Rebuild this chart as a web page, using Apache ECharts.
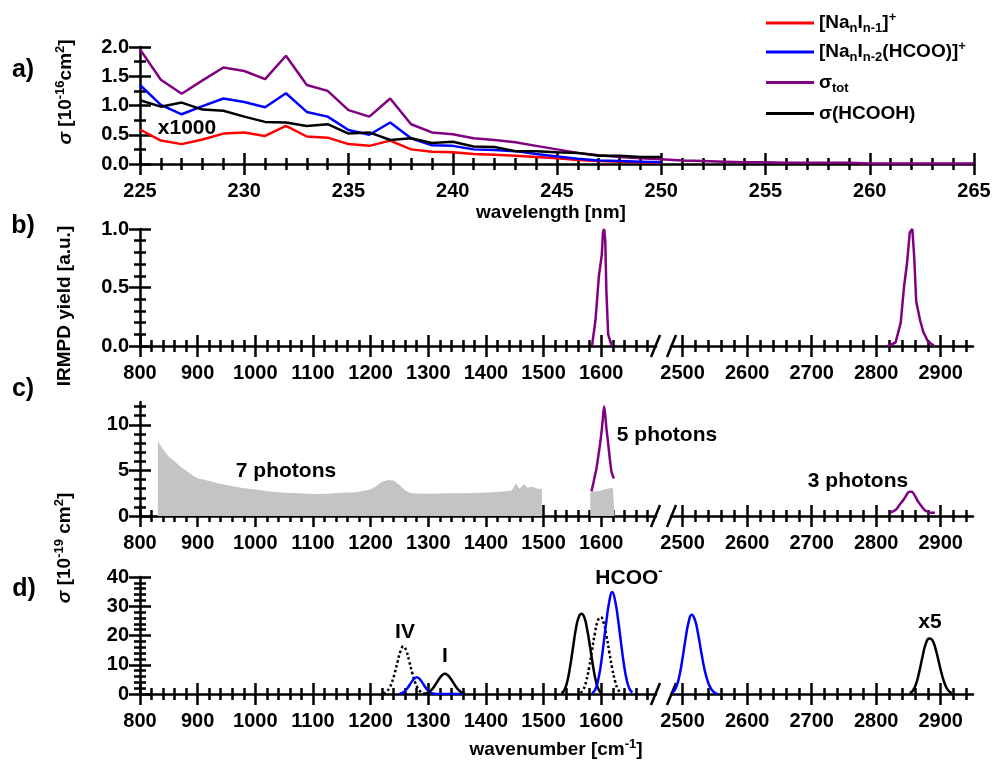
<!DOCTYPE html>
<html>
<head>
<meta charset="utf-8">
<title>Cross sections</title>
<style>
  * { margin: 0; padding: 0; }
  html, body { width: 100%; height: 100%; background: #fff; }
  #chart { width: 993px; height: 760px; }
</style>
</head>
<body>
<div id="chart"></div>
<script src="https://cdn.jsdelivr.net/npm/echarts@6/dist/echarts.min.js"></script>
<script>
// panel a: UV cross sections (10^-16 cm^2), 225..250 nm for three curves, sigma_tot to 265 nm
var wavelength = [225, 226, 227, 228, 229, 230, 231, 232, 233, 234, 235, 236, 237, 238, 239, 240,
  241, 242, 243, 244, 245, 246, 247, 248, 249, 250, 251, 252, 253, 254, 255, 256, 257, 258, 259,
  260, 261, 262, 263, 264, 265];
var sigNaI = [0.59, 0.40, 0.34, 0.42, 0.52, 0.54, 0.48, 0.65, 0.47, 0.45, 0.34, 0.31, 0.40, 0.25,
  0.21, 0.20, 0.17, 0.16, 0.14, 0.12, 0.10, 0.07, 0.05, 0.04, 0.03, 0.02];
var sigHCOO = [1.35, 1.01, 0.85, 0.99, 1.12, 1.06, 0.97, 1.21, 0.89, 0.81, 0.58, 0.50, 0.71, 0.44,
  0.32, 0.31, 0.25, 0.24, 0.22, 0.17, 0.13, 0.09, 0.06, 0.05, 0.04, 0.03];
var sigTot = [1.96, 1.44, 1.20, 1.43, 1.65, 1.59, 1.45, 1.85, 1.35, 1.25, 0.92, 0.81, 1.12, 0.68,
  0.54, 0.51, 0.44, 0.41, 0.37, 0.31, 0.25, 0.19, 0.15, 0.12, 0.10, 0.08, 0.06, 0.05, 0.04, 0.03,
  0.03, 0.02, 0.02, 0.02, 0.02, 0.01, 0.01, 0.01, 0.01, 0.01, 0.01];
var sigHCOOH = [1.09, 0.98, 1.05, 0.93, 0.91, 0.81, 0.72, 0.71, 0.65, 0.68, 0.52, 0.54, 0.41, 0.44,
  0.36, 0.38, 0.30, 0.29, 0.22, 0.22, 0.20, 0.19, 0.14, 0.14, 0.12, 0.12];

// panel b: IRMPD yield
var irmpdWnA = [1584, 1590, 1596, 1601, 1603, 1605, 1607, 1609, 1612, 1617, 1620];
var irmpdA = [0, 0.22, 0.6, 0.78, 0.97, 1.0, 0.9, 0.46, 0.1, 0.02, 0];
var irmpdWnB = [2818, 2830, 2838, 2843, 2848, 2852, 2856, 2859, 2862, 2868, 2873, 2880, 2890];
var irmpdB = [0, 0.03, 0.2, 0.5, 0.72, 0.97, 1.0, 0.75, 0.38, 0.22, 0.12, 0.04, 0];

// panel c: IR cross sections (10^-19 cm^2)
var sevenWn = [831, 840, 850, 860, 870, 880, 890, 900, 910, 920, 935, 950, 975, 1000, 1025, 1050,
  1075, 1100, 1125, 1150, 1175, 1200, 1210, 1220, 1230, 1240, 1250, 1260, 1270, 1300, 1330, 1360,
  1390, 1410, 1430, 1445, 1452, 1458, 1466, 1472, 1480, 1490, 1497];
var sevenSig = [8.2, 7.3, 6.5, 6.0, 5.4, 5.0, 4.5, 4.1, 4.0, 3.85, 3.6, 3.4, 3.1, 2.9, 2.7, 2.55,
  2.5, 2.4, 2.45, 2.55, 2.6, 2.9, 3.3, 3.75, 3.95, 3.9, 3.4, 2.8, 2.5, 2.45, 2.5, 2.5, 2.55, 2.6,
  2.7, 2.8, 3.6, 3.0, 3.5, 3.1, 3.2, 3.0, 3.0];
var sevenWnB = [1581, 1585, 1590, 1600, 1610, 1620, 1623];
var sevenSigB = [2.6, 2.7, 2.7, 2.8, 3.0, 3.1, 3.2];
var fiveWn = [1583, 1586, 1589, 1592, 1595, 1598, 1601, 1603, 1605, 1607, 1609, 1612, 1615, 1618, 1622];
var fiveSig = [2.7, 3.5, 4.4, 5.3, 6.6, 7.9, 9.5, 10.8, 12.0, 11.0, 9.6, 8.0, 6.2, 4.8, 4.1];
var threeWn = [2821, 2826, 2831, 2836, 2842, 2847, 2851, 2855, 2860, 2865, 2870, 2875, 2881, 2886, 2891];
var threeSig = [0.36, 0.5, 0.73, 1.2, 1.75, 2.3, 2.65, 2.65, 2.2, 1.57, 1.1, 0.66, 0.45, 0.36, 0.36];

// panel d: computed spectra
var ivWn = [1222, 1227, 1232, 1237, 1242, 1247, 1252, 1257, 1262, 1267, 1272, 1277, 1282, 1287, 1292, 1297];
var ivSig = [0.2, 0.7, 1.9, 4.0, 7.3, 11.2, 14.7, 16.3, 14.7, 11.2, 7.3, 4.0, 1.9, 0.7, 0.2, 0];
var blueAWn = [1250, 1255, 1260, 1265, 1270, 1275, 1280, 1285, 1290, 1295, 1300, 1305, 1310, 1315, 1360];
var blueASig = [0.1, 0.4, 1.1, 2.3, 3.8, 5.1, 5.7, 5.1, 3.8, 2.3, 1.1, 0.4, 0.1, 0, 0];
var iWn = [1294, 1299, 1304, 1309, 1314, 1319, 1324, 1329, 1334, 1339, 1344, 1349, 1354, 1359, 1364];
var iSig = [0.1, 0.4, 1.1, 2.2, 3.7, 5.2, 6.4, 6.9, 6.4, 5.2, 3.7, 2.2, 1.1, 0.4, 0.1];
var blackBWn = [1531, 1536, 1541, 1546, 1551, 1556, 1561, 1566, 1571, 1576, 1581, 1586, 1591, 1596, 1601];
var blackBSig = [0.3, 1.3, 4.2, 9.3, 15.8, 22.2, 26.3, 27.4, 26.0, 21.6, 15.6, 9.3, 4.2, 1.3, 0.3];
var dotBWn = [1564, 1569, 1574, 1579, 1584, 1589, 1594, 1599, 1604, 1609, 1614, 1619, 1624, 1629, 1634];
var dotBSig = [0.4, 1.5, 4.4, 9.0, 14.9, 20.8, 25.0, 26.3, 24.5, 20.0, 14.3, 8.8, 4.4, 1.6, 0.4];
var blueBWn = [1584, 1589, 1594, 1599, 1604, 1609, 1614, 1619, 1624, 1629, 1634, 1639, 1644, 1649, 1654];
var blueBSig = [0.3, 1.3, 4.2, 9.5, 17.0, 25.0, 31.6, 34.9, 32.0, 25.8, 18.0, 10.6, 5.0, 1.8, 0.5];
var blueCWn = [2484, 2489, 2494, 2499, 2504, 2509, 2514, 2519, 2524, 2529, 2534, 2539, 2544, 2549, 2554];
var blueCSig = [0.5, 1.8, 5.2, 11.0, 18.1, 24.3, 27.1, 25.4, 20.5, 14.2, 8.4, 4.3, 1.8, 0.6, 0];
var x5Wn = [2852, 2857, 2862, 2867, 2872, 2877, 2882, 2887, 2892, 2897, 2902, 2907, 2912, 2917];
var x5Sig = [0.3, 1.2, 3.6, 7.9, 13.0, 17.3, 19.0, 18.4, 15.4, 11.0, 6.5, 3.1, 1.1, 0.3];

// tick labels
var nmTicks = [225, 230, 235, 240, 245, 250, 255, 260, 265];
var wnTicksL = [800, 900, 1000, 1100, 1200, 1300, 1400, 1500, 1600];
var wnTicksR = [2500, 2600, 2700, 2800, 2900];
var aTicksY = [0, 0.5, 1, 1.5, 2];
var bTicksY = [0, 0.5, 1];
var cTicksY = [0, 5, 10];
var dTicksY = [0, 10, 20, 30, 40];

var FONT = '"Liberation Sans", Arial, sans-serif';

function minorTicks(from, to, step, majors) {
  var out = [];
  for (var v = from; v <= to + 1e-9; v += step) {
    var r = Math.round(v * 1000) / 1000;
    if (majors.indexOf(r) === -1) out.push(r);
  }
  return out;
}

function pairs(xs, ys) {
  var out = [];
  for (var i = 0; i < ys.length; i++) out.push([xs[i], ys[i]]);
  return out;
}

var grids = [
  { left: 140, top: 47, width: 834, height: 117 },    // a
  { left: 140, top: 229, width: 516, height: 117 },   // b left
  { left: 671, top: 229, width: 302, height: 117 },   // b right
  { left: 140, top: 402, width: 516, height: 114 },   // c left
  { left: 671, top: 402, width: 302, height: 114 },   // c right
  { left: 140, top: 577, width: 516, height: 117 },   // d left
  { left: 671, top: 577, width: 302, height: 117 }    // d right
];
grids.forEach(function (g) { g.outerBoundsMode = 'none'; g.containLabel = false; });

var xAxes = [], yAxes = [];
var labelStyle = { color: '#000', fontFamily: FONT, fontWeight: 'bold', fontSize: 20 };

// four axes on top of each other so the ticks cross the axis line
function axisSet(dim, grid, min, max, majors, minors, fmt) {
  var list = dim === 'x' ? xAxes : yAxes;
  var first = list.length;
  var sets = [[majors, 11, false, true], [majors, 11, true, false], [minors, 6, false, false], [minors, 6, true, false]];
  sets.forEach(function (t, k) {
    var lbl = { show: false };
    if (t[3]) {
      lbl = Object.assign({ margin: dim === 'x' ? 17 : 11, customValues: majors, formatter: fmt }, labelStyle);
    }
    list.push({
      type: 'value', gridIndex: grid, min: min, max: max,
      position: dim === 'x' ? 'bottom' : 'left',
      splitLine: { show: false },
      axisLine: { show: k === 0, onZero: false, lineStyle: { color: '#000', width: 2.5 } },
      axisTick: { show: true, inside: t[2], length: t[1], customValues: t[0], lineStyle: { color: '#000', width: 2.5 } },
      axisLabel: lbl
    });
  });
  return first;
}
function hiddenY(grid, min, max) {
  yAxes.push({ type: 'value', gridIndex: grid, min: min, max: max, show: false });
  return yAxes.length - 1;
}

var f1 = function (v) { return v.toFixed(1); };
var f0 = function (v) { return String(v); };
var wnMinorL = minorTicks(820, 1680, 20, wnTicksL);
var wnMinorR = minorTicks(2500, 2940, 20, wnTicksR);

var ax = {};
ax.ax = axisSet('x', 0, 225, 265, nmTicks, minorTicks(225, 265, 1, nmTicks), f0);
ax.ay = axisSet('y', 0, 0, 2, aTicksY, [0.25, 0.75, 1.25, 1.75], f1);
ax.bxl = axisSet('x', 1, 800, 1695, wnTicksL, wnMinorL, f0);
ax.byl = axisSet('y', 1, 0, 1, bTicksY, minorTicks(0, 1, 0.1, bTicksY), f1);
ax.bxr = axisSet('x', 2, 2482, 2950, wnTicksR, wnMinorR, f0);
ax.byr = hiddenY(2, 0, 1);
ax.cxl = axisSet('x', 3, 800, 1695, wnTicksL, wnMinorL, f0);
ax.cyl = axisSet('y', 3, 0, 12.5, cTicksY, minorTicks(0, 12, 1, cTicksY), f0);
ax.cxr = axisSet('x', 4, 2482, 2950, wnTicksR, wnMinorR, f0);
ax.cyr = hiddenY(4, 0, 12.5);
ax.dxl = axisSet('x', 5, 800, 1695, wnTicksL, wnMinorL, f0);
ax.dyl = axisSet('y', 5, 0, 40, dTicksY, minorTicks(0, 40, 2, dTicksY), f0);
ax.dxr = axisSet('x', 6, 2482, 2950, wnTicksR, wnMinorR, f0);
ax.dyr = hiddenY(6, 0, 40);

var RED = '#ff0000', BLUE = '#0000ff', PURPLE = '#800080', BLACK = '#000000', GRAY = '#c4c4c4';

function line(name, xi, yi, data, color, opts) {
  opts = opts || {};
  return {
    name: name, type: 'line', xAxisIndex: xi, yAxisIndex: yi, data: data,
    symbol: 'none', showSymbol: false, smooth: opts.smooth || false,
    lineStyle: { color: color, width: 2.5, type: opts.dotted ? 'dotted' : 'solid' },
    itemStyle: { color: color },
    z: opts.z || 3, silent: true
  };
}
function area(xi, yi, data) {
  return {
    type: 'line', xAxisIndex: xi, yAxisIndex: yi, data: data, symbol: 'none',
    lineStyle: { width: 0, color: GRAY }, areaStyle: { color: GRAY, opacity: 1 },
    z: 1, silent: true
  };
}

var series = [
  line('NaI', ax.ax, ax.ay, pairs(wavelength, sigNaI), RED),
  line('HCOO', ax.ax, ax.ay, pairs(wavelength, sigHCOO), BLUE),
  line('tot', ax.ax, ax.ay, pairs(wavelength, sigTot), PURPLE),
  line('HCOOH', ax.ax, ax.ay, pairs(wavelength, sigHCOOH), BLACK),

  line('b1', ax.bxl, ax.byl, pairs(irmpdWnA, irmpdA), PURPLE),
  line('b2', ax.bxr, ax.byr, pairs(irmpdWnB, irmpdB), PURPLE),

  area(ax.cxl, ax.cyl, pairs(sevenWn, sevenSig)),
  area(ax.cxl, ax.cyl, pairs(sevenWnB, sevenSigB)),
  line('c5', ax.cxl, ax.cyl, pairs(fiveWn, fiveSig), PURPLE, { smooth: 0.3 }),
  line('c3', ax.cxr, ax.cyr, pairs(threeWn, threeSig), PURPLE, { smooth: 0.4 }),

  line('dIV', ax.dxl, ax.dyl, pairs(ivWn, ivSig), BLACK, { smooth: 0.5, dotted: true }),
  line('dBlueA', ax.dxl, ax.dyl, pairs(blueAWn, blueASig), BLUE, { smooth: 0.5 }),
  line('dI', ax.dxl, ax.dyl, pairs(iWn, iSig), BLACK, { smooth: 0.5 }),
  line('dBlackB', ax.dxl, ax.dyl, pairs(blackBWn, blackBSig), BLACK, { smooth: 0.5 }),
  line('dDotB', ax.dxl, ax.dyl, pairs(dotBWn, dotBSig), BLACK, { smooth: 0.5, dotted: true }),
  line('dBlueB', ax.dxl, ax.dyl, pairs(blueBWn, blueBSig), BLUE, { smooth: 0.5 }),
  line('dBlueC', ax.dxr, ax.dyr, pairs(blueCWn, blueCSig), BLUE, { smooth: 0.5 }),
  line('dX5', ax.dxr, ax.dyr, pairs(x5Wn, x5Sig), BLACK, { smooth: 0.5 })
];

// legend (one component per row)
var legendText = {
  NaI: '{b|[Na}{sub|n}{b|I}{sub|n-1}{b|]}{sup|+}',
  HCOO: '{b|[Na}{sub|n}{b|I}{sub|n-2}{b|(HCOO)]}{sup|+}',
  tot: '{b|σ}{sub|tot}',
  HCOOH: '{b|σ(HCOOH)}'
};
var legRich = {
  b: { color: '#000', fontFamily: FONT, fontWeight: 'bold', fontSize: 19, lineHeight: 24 },
  sub: { color: '#000', fontFamily: FONT, fontWeight: 'bold', fontSize: 13, lineHeight: 13, verticalAlign: 'bottom' },
  sup: { color: '#000', fontFamily: FONT, fontWeight: 'bold', fontSize: 13, lineHeight: 13, verticalAlign: 'top' }
};
var legendRows = [['NaI', 23], ['HCOO', 52], ['tot', 85], ['HCOOH', 116]];
var legends = legendRows.map(function (r) {
  return {
    data: [r[0]], left: 766, top: r[1] - 12, orient: 'vertical', padding: 0,
    icon: 'rect', itemWidth: 48, itemHeight: 3, selectedMode: false,
    formatter: function (n) { return legendText[n]; },
    textStyle: { rich: legRich }
  };
});

// free text: axis titles, panel letters, annotations
var gRich = {
  b: { fill: '#000', fontFamily: FONT, fontWeight: 'bold', fontSize: 19, lineHeight: 24 },
  n: { fill: '#000', fontFamily: FONT, fontWeight: 'bold', fontSize: 21, lineHeight: 26 },
  i: { fill: '#000', fontFamily: FONT, fontWeight: 'bold', fontStyle: 'italic', fontSize: 19, lineHeight: 24 },
  sup: { fill: '#000', fontFamily: FONT, fontWeight: 'bold', fontSize: 13, lineHeight: 13, verticalAlign: 'top' },
  big: { fill: '#000', fontFamily: FONT, fontWeight: 'bold', fontSize: 25, lineHeight: 28 }
};
function label(text, x, y, rot) {
  return {
    type: 'text', x: x, y: y, rotation: rot || 0, silent: true,
    style: { text: text, rich: gRich, fill: '#000', font: 'bold 19px ' + FONT,
      align: 'center', verticalAlign: 'middle', textAlign: 'center', textVerticalAlign: 'middle' }
  };
}
function slash(xa, y) {
  return { type: 'line', silent: true, shape: { x1: xa, y1: y + 11, x2: xa + 9, y2: y - 11 },
    style: { stroke: '#000', lineWidth: 2.5 } };
}

var texts = [
  label('{big|a)}', 23, 70), label('{big|b)}', 23, 226), label('{big|c)}', 23, 389), label('{big|d)}', 24, 589),
  label('{i|σ}{b| [10}{sup|-16}{b|cm}{sup|2}{b|]}', 66, 92, Math.PI / 2),
  label('{b|IRMPD yield [a.u.]}', 65, 306, Math.PI / 2),
  label('{i|σ}{b| [10}{sup|-19}{b| cm}{sup|2}{b|]}', 65, 548, Math.PI / 2),
  label('{b|wavelength [nm]}', 551, 213),
  label('{b|wavenumber [cm}{sup|-1}{b|]}', 556, 750),
  label('{n|x1000}', 187, 128),
  label('{n|7 photons}', 286, 471),
  label('{n|5 photons}', 667, 435),
  label('{n|3 photons}', 858, 481),
  label('{n|HCOO}{sup|-}', 629, 578),
  label('{n|IV}', 405, 632),
  label('{n|I}', 445, 656),
  label('{n|x5}', 930, 622)
];
[346, 516, 694].forEach(function (y) {
  texts.push(slash(651, y));
  texts.push(slash(667, y));
});

var chart = echarts.init(document.getElementById('chart'), null, { renderer: 'canvas' });
chart.setOption({
  backgroundColor: '#fff',
  animation: false,
  grid: grids,
  xAxis: xAxes,
  yAxis: yAxes,
  legend: legends,
  series: series,
  graphic: { elements: texts }
});
</script>
</body>
</html>
